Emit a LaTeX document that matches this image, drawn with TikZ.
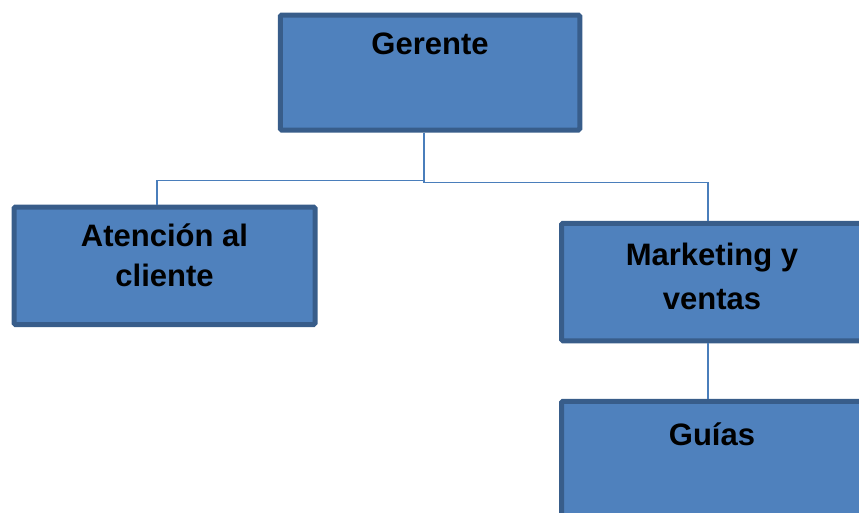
\documentclass[tikz,border=0pt]{standalone}
\usepackage{fontspec}
\setmainfont{Liberation Sans}
\usetikzlibrary{positioning}
\definecolor{boxfill}{HTML}{4F81BD}
\definecolor{boxline}{HTML}{385D8A}
\definecolor{linkblue}{HTML}{4A7EBB}
\tikzset{
  unit/.style={draw=boxline, fill=boxfill, line width=5pt, rounded corners=1.5pt,
    minimum width=301pt, minimum height=117.5pt, inner sep=0pt},
  title/.style={font=\bfseries\fontsize{31}{40}\selectfont, align=center, inner sep=0pt},
  link/.style={draw=linkblue, line width=1.5pt}
}
\begin{document}
\begin{tikzpicture}[x=1pt,y=-1pt]
\useasboundingbox (0,0) rectangle (859,512);

\node[unit, minimum width=299.5pt, minimum height=115pt] (gerente) at (430,72.5) {};
\node[unit] (atencion) at (164.5,265.75) {};
\node[unit] (marketing) at (712,282) {};
\node[unit] (guias) at (712,460) {};

\node[title, below=20pt of gerente.north] (gerentetxt) {Gerente};
\node[title, below=19pt of atencion.north] (atenciontxt) {Atención al\\cliente};
\node[title, font=\bfseries\fontsize{31}{44}\selectfont, below=22pt of marketing.north] (marketingtxt) {Marketing y\\ventas};
\node[title, below=24pt of guias.north] (guiastxt) {Guías};

\draw[link] ([xshift=-6pt]gerente.south) -- ++(0,48) -| ([xshift=-7.5pt]atencion.north);
\draw[link] ([xshift=-6pt]gerente.south) -- ++(0,50) -| ([xshift=-4pt]marketing.north);
\draw[link] ([xshift=-4pt]marketing.south) -- ([xshift=-4pt]guias.north);
\end{tikzpicture}
\end{document}
